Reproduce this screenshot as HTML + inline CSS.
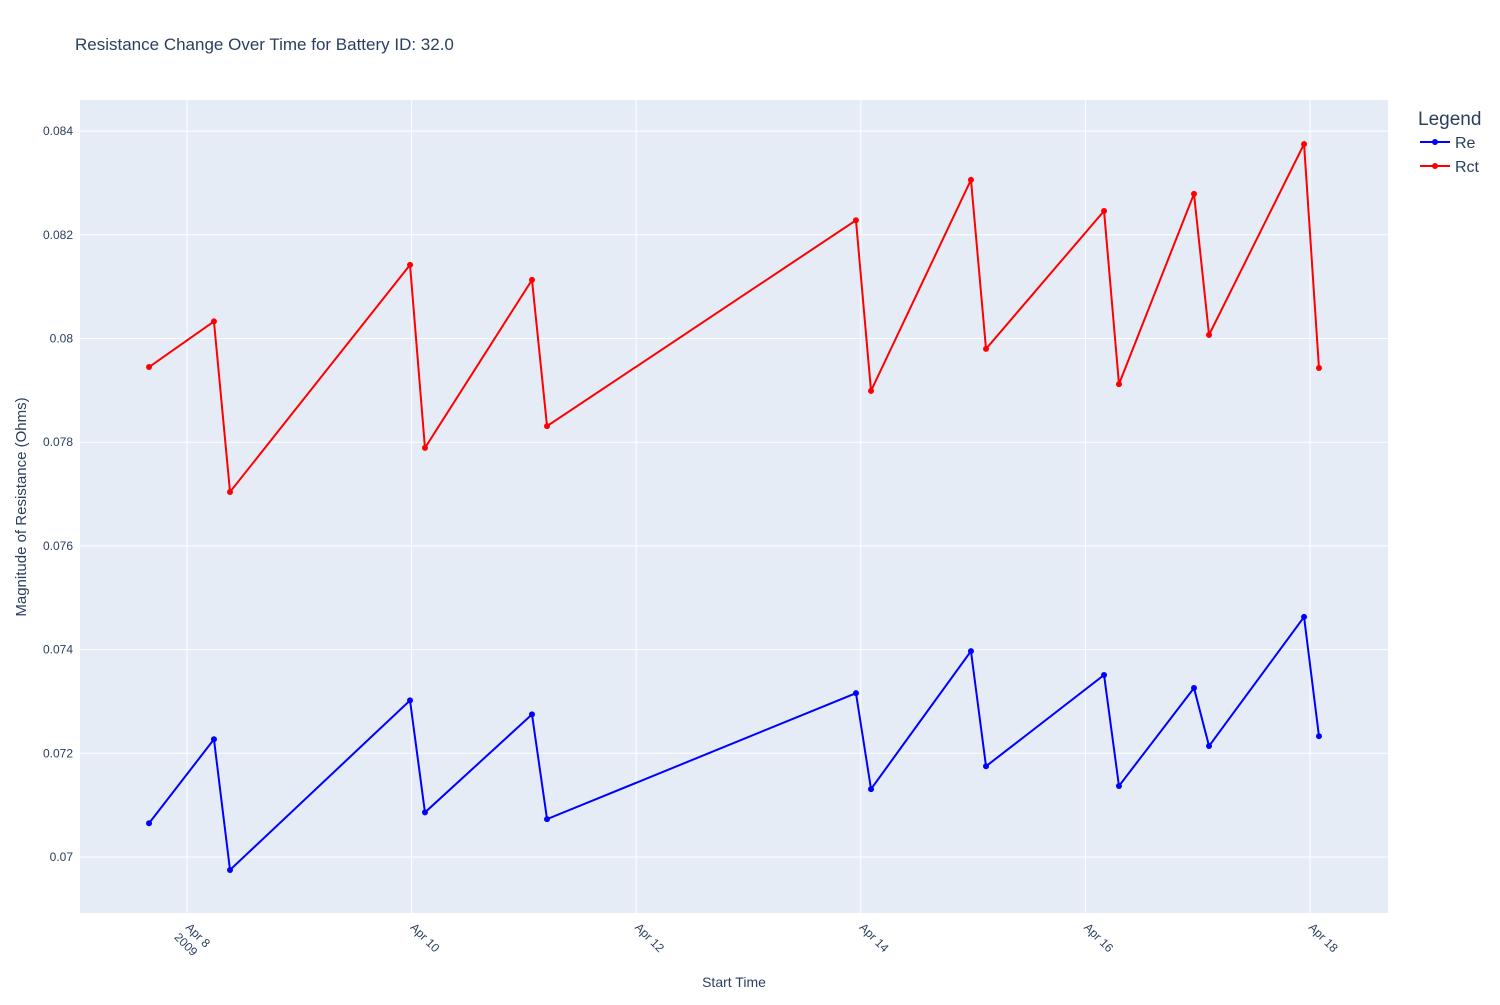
<!DOCTYPE html>
<html><head><meta charset="utf-8"><style>
body{margin:0;background:#fff;font-family:"Liberation Sans",sans-serif;}
svg text{font-family:"Liberation Sans",sans-serif;fill:#2a3f5f;}
</style></head><body>
<svg id="chart" width="1500" height="1000">
<text x="75" y="50" font-size="17">Resistance Change Over Time for Battery ID: 32.0</text>
<rect x="80" y="100" width="1308" height="813" fill="#e5ecf6"/>
<g id="grid"></g><g id="series"></g><g id="axes"></g>
<text x="734" y="987" font-size="14" text-anchor="middle">Start Time</text>
<text transform="translate(26,507) rotate(-90)" font-size="15" text-anchor="middle">Magnitude of Resistance (Ohms)</text>
<g>
<text x="1418" y="125" font-size="19">Legend</text>
<g><line x1="1420" y1="142" x2="1450" y2="142" stroke="#0000ff" stroke-width="2"/><circle cx="1435" cy="142" r="3" fill="#0000ff"/><text x="1455" y="148" font-size="16">Re</text></g>
<g><line x1="1420" y1="166" x2="1450" y2="166" stroke="#ff0000" stroke-width="2"/><circle cx="1435" cy="166" r="3" fill="#ff0000"/><text x="1455" y="172" font-size="16">Rct</text></g>
</g>
</svg>
<script>
// days since Apr 8 2009 00:00
const times=[-0.338,0.240,0.383,1.986,2.119,3.072,3.206,5.957,6.091,6.981,7.115,8.166,8.299,8.967,9.101,9.947,10.080];
const reValues=[0.07065,0.07227,0.06975,0.07302,0.07086,0.07275,0.07073,0.07316,0.07131,0.07397,0.07175,0.07351,0.07137,0.07326,0.07214,0.07463,0.07233];
const rctValues=[0.07945,0.08033,0.07704,0.08142,0.07789,0.08113,0.07831,0.08228,0.07899,0.08306,0.07980,0.08246,0.07912,0.08279,0.08007,0.08375,0.07943];
const yTicks=[0.07,0.072,0.074,0.076,0.078,0.08,0.082,0.084];
const yTickLabels=["0.07","0.072","0.074","0.076","0.078","0.08","0.082","0.084"];
const xTicks=[0,2,4,6,8,10];
const xTickLabels=["Apr 8","Apr 10","Apr 12","Apr 14","Apr 16","Apr 18"];
const NS="http://www.w3.org/2000/svg";
const x=d=>187+d*112.3;
const y=v=>857-(v-0.07)/0.002*103.7;
function mk(t,a,p){const e=document.createElementNS(NS,t);for(const k in a)e.setAttribute(k,a[k]);p.appendChild(e);return e;}
const grid=document.getElementById('grid'),axes=document.getElementById('axes'),ser=document.getElementById('series');
yTicks.forEach((v,i)=>{
 const l=mk('line',{x1:80,x2:1388,y1:y(v),y2:y(v),stroke:'#fff','stroke-width':1},grid);
 
 
 const t=mk('text',{x:73,y:y(v)+4,'font-size':12,'text-anchor':'end'},axes);t.textContent=yTickLabels[i];
 
 
});
xTicks.forEach((d,i)=>{
 const l=mk('line',{x1:x(d),x2:x(d),y1:100,y2:913,stroke:'#fff','stroke-width':1},grid);
 
 
 const g=mk('g',{transform:`translate(${x(d)-2},${928}) rotate(45)`},axes);
 
 
 const t=mk('text',{x:0,y:0,'font-size':12,'text-anchor':'start'},g);t.textContent=xTickLabels[i];
 if(i===0){const t2=mk('text',{x:-1,y:15,'font-size':12},g);t2.textContent='2009';}
});
function draw(vals,color,name){
 const pts=times.map((d,i)=>x(d)+','+y(vals[i])).join(' ');
 const pl=mk('polyline',{points:pts,fill:'none',stroke:color,'stroke-width':2},ser);
 
 
 times.forEach((d,i)=>{const c=mk('circle',{cx:x(d),cy:y(vals[i]),r:3,fill:color},ser);
  
  });
}
draw(reValues,'#0000ff','re');
draw(rctValues,'#ff0000','rct');
</script>
</body></html>
